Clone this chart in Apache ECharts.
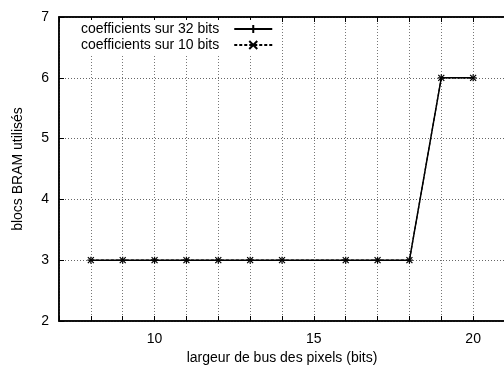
<!DOCTYPE html>
<html>
<head>
<meta charset="utf-8">
<script src="https://cdn.jsdelivr.net/npm/echarts@6/dist/echarts.min.js"></script>
<style>html,body{margin:0;padding:0;background:#fff}#c{width:504px;height:367px}</style>
</head>
<body>
<div id="c"></div>
<script>
const xValues = [8, 9, 10, 11, 12, 13, 14, 16, 17, 18, 19, 20];
const coef32 = [3, 3, 3, 3, 3, 3, 3, 3, 3, 3, 6, 6];
const coef10 = [3, 3, 3, 3, 3, 3, 3, 3, 3, 3, 6, 6];
const seriesNames = ['coefficients sur 32 bits', 'coefficients sur 10 bits'];
const xTickLabels = [10, 15, 20];
const yTickLabels = [2, 3, 4, 5, 6, 7];

const font = 'Liberation Sans, Arial, Helvetica, sans-serif';
const chart = echarts.init(document.getElementById('c'));
const pairs = (xs, ys) => xs.map((x, i) => [x, ys[i]]);
const plus = 'path://M0,5L10,5M5,0L5,10';
const cross = 'path://M0,0L10,10M10,0L0,10';

chart.setOption({
  animation: false,
  backgroundColor: '#fff',
  textStyle: { fontFamily: font },
  grid: { left: 59, right: -1, top: 17, bottom: 46, outerBoundsMode: 'none', containLabel: false,
    show: true, borderColor: '#000', borderWidth: 1.5, backgroundColor: 'transparent' },
  legend: {
    orient: 'vertical', left: 77, top: 20, align: 'right',
    itemWidth: 38, itemHeight: 10, itemGap: 2,
    padding: [2, 4, 2, 4],
    backgroundColor: '#fff',
    textStyle: { fontFamily: font, fontSize: 14, color: '#000', padding: [0, 10, 0, 0] },
    data: seriesNames
  },
  xAxis: [{
    type: 'value', min: 7, max: 21, interval: 1,
    name: 'largeur de bus des pixels (bits)', nameLocation: 'middle', nameGap: 28,
    nameTextStyle: { fontFamily: font, fontSize: 14, color: '#000' },
    axisLine: { show: true, lineStyle: { color: '#000', width: 1.5 } },
    axisTick: { show: true, inside: true, length: 5, lineStyle: { color: '#000' },
      interval: (i, v) => xTickLabels.indexOf(Number(v)) >= 0 },
    axisLabel: { fontFamily: font, fontSize: 14, color: '#000', margin: 11,
      formatter: v => xTickLabels.indexOf(v) >= 0 ? String(v) : '' },
    splitLine: { show: true, lineStyle: { color: '#777', type: [1, 2], width: 1 } }
  }, {
    type: 'value', position: 'top', min: 7, max: 21, interval: 1,
    axisLine: { show: true, lineStyle: { color: '#000', width: 1.5 } },
    axisTick: { show: true, inside: true, length: 5, lineStyle: { color: '#000' },
      interval: (i, v) => xTickLabels.indexOf(Number(v)) >= 0 },
    axisLabel: { show: false }, splitLine: { show: false }
  }],
  yAxis: {
    type: 'value', min: 2, max: 7, interval: 1,
    name: 'blocs BRAM utilisés', nameLocation: 'middle', nameGap: 34,
    nameTextStyle: { fontFamily: font, fontSize: 14, color: '#000' },
    axisLine: { show: true, lineStyle: { color: '#000', width: 1.5 } },
    axisTick: { show: true, inside: true, length: 5, lineStyle: { color: '#000' } },
    axisLabel: { fontFamily: font, fontSize: 14, color: '#000', margin: 10,
      formatter: v => yTickLabels.indexOf(v) >= 0 ? String(v) : '' },
    splitLine: { show: true, lineStyle: { color: '#666', type: [1, 2], width: 1 } }
  },
  series: [{
    name: seriesNames[0], type: 'line', data: pairs(xValues, coef32),
    symbol: plus, symbolSize: 7, showSymbol: true,
    lineStyle: { color: '#000', width: 1.5, type: 'solid' },
    itemStyle: { color: '#000', borderColor: '#000', borderWidth: 1.2 },
    z: 3
  }, {
    name: seriesNames[1], type: 'line', data: pairs(xValues, coef10),
    symbol: cross, symbolSize: 6, showSymbol: true,
    lineStyle: { color: '#000', width: 1.2, type: [3, 2] },
    itemStyle: { color: '#000', borderColor: '#000', borderWidth: 1.2 },
    z: 4
  }]
});
</script>
</body>
</html>
